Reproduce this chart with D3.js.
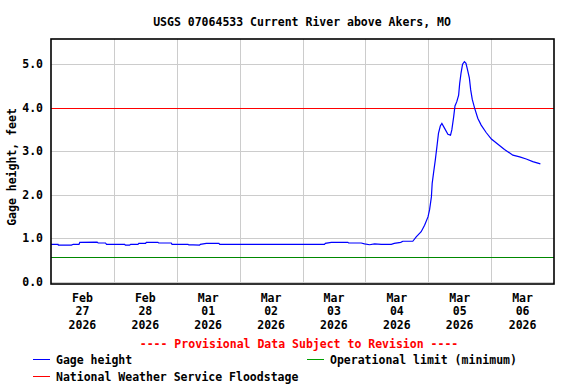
<!DOCTYPE html>
<html>
<head>
<meta charset="utf-8">
<script src="https://cdn.jsdelivr.net/npm/d3@7"></script>
<style>
  body { margin: 0; background: #fff; }
  svg { display: block; }
  text { font-family: 'DejaVu Sans Mono', 'Liberation Mono', monospace; font-weight: bold; font-size: 11.5px; }
</style>
</head>
<body>
<div id="graph"></div>
<script>
// Readings, hours after Feb 27 2026 00:00, and gage height in feet

var start = new Date(2026, 1, 27, 0, 0);

var hours = [
  0, 2.7, 2.8, 7.8, 8.5, 10.7, 11, 17.6, 18, 20.8, 21.2, 28.1, 28.4, 30, 30.4, 33.2,
  33.5, 36.1, 36.4, 40.8, 41.1, 45.9, 46.2, 52.3, 52.6, 54.2, 56.7, 57, 59.3, 64.1,
  64.4, 104.4, 104.7, 107, 113.3, 113.6, 118.4, 119.7, 121.6, 123.5, 126.1, 129.9,
  131, 133.5, 134.3, 138.1, 139.4, 141.3, 142.6, 143.9, 144.5, 145.2, 145.5, 146,
  146.7, 147.3, 147.9, 148.6, 149.2, 150.2, 151.5, 152.5, 153, 153.7, 154.2, 154.9,
  155.6, 156, 156.5, 157.1, 157.8, 158.4, 159, 159.7, 160.2, 160.8, 161.7, 162.9,
  164.2, 166.1, 168.1, 170.6, 173.1, 176.3, 178.9, 181.4, 183.9, 186.8
];

var gage = [
  0.86, 0.86, 0.84, 0.84, 0.86, 0.86, 0.905, 0.91, 0.89, 0.89, 0.86, 0.86, 0.84, 0.84, 0.86, 0.86,
  0.88, 0.88, 0.905, 0.905, 0.89, 0.89, 0.86, 0.86, 0.845, 0.845, 0.84, 0.86, 0.88, 0.88,
  0.86, 0.86, 0.88, 0.905, 0.905, 0.89, 0.89, 0.87, 0.85, 0.87, 0.86, 0.86,
  0.88, 0.905, 0.93, 0.93, 1.03, 1.15, 1.3, 1.49, 1.65, 1.95, 2.26, 2.49,
  2.8, 3.1, 3.41, 3.58, 3.64, 3.53, 3.39, 3.37, 3.49, 3.79, 4.04, 4.14,
  4.29, 4.56, 4.79, 5.0, 5.06, 5.02, 4.87, 4.68, 4.41, 4.19, 3.99, 3.76,
  3.6, 3.43, 3.28, 3.16, 3.04, 2.91, 2.87, 2.82, 2.76, 2.71
];

var floodStage = 4.0;
var opLimit = 0.56;

var yTicks = [0, 1, 2, 3, 4, 5];
var dayLabels = [
  ['Feb', '27', '2026'], ['Feb', '28', '2026'], ['Mar', '01', '2026'], ['Mar', '02', '2026'],
  ['Mar', '03', '2026'], ['Mar', '04', '2026'], ['Mar', '05', '2026'], ['Mar', '06', '2026']
];

var legendItems = [
  { color: '#0000ff', text: 'Gage height', col: 0, row: 0 },
  { color: '#00a000', text: 'Operational limit (minimum)', col: 1, row: 0 },
  { color: '#ff0000', text: 'National Weather Service Floodstage', col: 0, row: 1 }
];

var w = 576;
var h = 384;
// plot frame edges
var pL = 51, pR = 554, pT = 39, pB = 284;

var svg = d3
  .select('#graph')
  .append('svg')
  .attr('width', w)
  .attr('height', h);

var data = hours.map(function(hr, i) {
  return { date: d3.timeMinute.offset(start, Math.round(hr * 60)), value: gage[i] };
});

var xscale = d3
  .scaleTime()
  .domain([start, d3.timeDay.offset(start, 8)])
  .range([pL, pR]);

var yscale = d3
  .scaleLinear()
  .domain([-0.053, 5.58])
  .range([pB, pT]);

// grid lines, one per midnight and one per foot

var days = d3.timeDay.range(d3.timeDay.offset(start, 1), d3.timeDay.offset(start, 8));

svg
  .append('g')
  .selectAll('line')
  .data(days)
  .enter()
  .append('line')
  .attr('x1', function(d) { return Math.round(xscale(d)) + 0.5; })
  .attr('x2', function(d) { return Math.round(xscale(d)) + 0.5; })
  .attr('y1', pT)
  .attr('y2', pB)
  .attr('stroke', '#cccccc');

svg
  .append('g')
  .selectAll('line')
  .data(yTicks)
  .enter()
  .append('line')
  .attr('x1', pL)
  .attr('x2', pR)
  .attr('y1', function(d) { return Math.round(yscale(d)) + 0.5; })
  .attr('y2', function(d) { return Math.round(yscale(d)) + 0.5; })
  .attr('stroke', '#cccccc');

// reference lines

svg
  .append('line')
  .attr('x1', pL)
  .attr('x2', pR)
  .attr('y1', Math.round(yscale(opLimit)) + 0.5)
  .attr('y2', Math.round(yscale(opLimit)) + 0.5)
  .attr('stroke', '#008800');

svg
  .append('line')
  .attr('x1', pL)
  .attr('x2', pR)
  .attr('y1', Math.round(yscale(floodStage)) + 0.5)
  .attr('y2', Math.round(yscale(floodStage)) + 0.5)
  .attr('stroke', '#ff0000');

// gage height trace

var line = d3
  .line()
  .x(function(d) { return xscale(d.date); })
  .y(function(d) { return yscale(d.value); });

svg
  .append('path')
  .datum(data)
  .attr('d', line)
  .attr('fill', 'none')
  .attr('stroke', '#0000ff')
  .attr('stroke-width', 1.2);

// frame

svg
  .append('rect')
  .attr('x', pL)
  .attr('y', pT)
  .attr('width', pR - pL)
  .attr('height', pB - pT)
  .attr('fill', 'none')
  .attr('stroke', '#000')
  .attr('stroke-width', 1.6);

// y tick labels

svg
  .append('g')
  .selectAll('text')
  .data(yTicks)
  .enter()
  .append('text')
  .attr('x', 43)
  .attr('y', function(d) { return yscale(d) + 4; })
  .attr('text-anchor', 'end')
  .text(function(d) { return d3.format('.1f')(d); });

// x labels at noon of each day

var xlab = svg
  .append('g')
  .selectAll('text')
  .data(dayLabels)
  .enter()
  .append('text')
  .attr('text-anchor', 'middle')
  .attr('x', function(d, i) { return xscale(d3.timeHour.offset(start, i * 24 + 12)); })
  .attr('y', 301.5);

xlab
  .selectAll('tspan')
  .data(function(d) { return d; })
  .enter()
  .append('tspan')
  .attr('x', function() { return d3.select(this.parentNode).attr('x'); })
  .attr('dy', function(d, i) { return i === 0 ? 0 : 13.5; })
  .text(function(d) { return d; });

// titles

svg
  .append('text')
  .attr('x', 302)
  .attr('y', 26)
  .attr('text-anchor', 'middle')
  .text('USGS 07064533 Current River above Akers, MO');

svg
  .append('text')
  .attr('transform', 'translate(16,167) rotate(-90)')
  .attr('text-anchor', 'middle')
  .text('Gage height, feet');

svg
  .append('text')
  .attr('x', 299)
  .attr('y', 348)
  .attr('text-anchor', 'middle')
  .attr('fill', '#ff0000')
  .text('---- Provisional Data Subject to Revision ----');

// legend

var legend = svg
  .append('g')
  .selectAll('g')
  .data(legendItems)
  .enter()
  .append('g')
  .attr('transform', function(d) {
    return 'translate(' + (d.col ? 307 : 33) + ',' + (d.row ? 376.5 : 359.5) + ')';
  });

legend
  .append('line')
  .attr('x1', 0)
  .attr('x2', 17)
  .attr('stroke', function(d) { return d.color; });

legend
  .append('text')
  .attr('x', 23)
  .attr('y', 4)
  .text(function(d) { return d.text; });
</script>
</body>
</html>
